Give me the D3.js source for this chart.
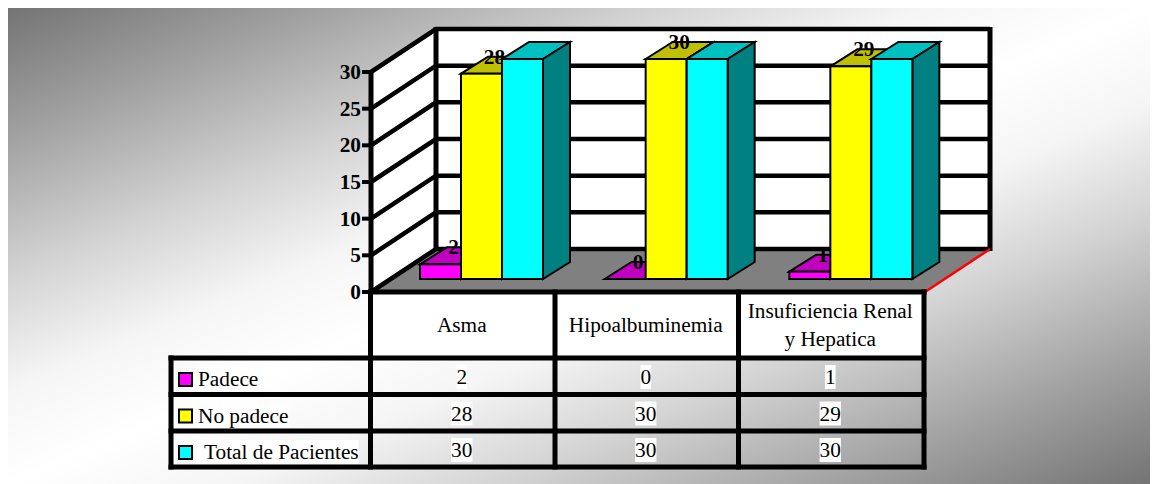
<!DOCTYPE html>
<html>
<head>
<meta charset="utf-8">
<script src="https://cdn.jsdelivr.net/npm/d3@7"></script>
<style>
  html, body { margin: 0; background: #fff; }
  svg { display: block; }
  text { font-family: "Liberation Serif", serif; fill: #000; }
</style>
</head>
<body>
<svg width="1154" height="484"></svg>
<script>
const width = 1154;
const height = 484;

const categories = ["Asma", "Hipoalbuminemia", "Insuficiencia Renal|y Hepatica"];
const seriesNames = ["Padece", "No padece", "Total de Pacientes"];
const padece = [2, 0, 1];
const noPadece = [28, 30, 29];
const total = [30, 30, 30];
const seriesValues = [padece, noPadece, total];
const yTicks = [0, 5, 10, 15, 20, 25, 30];

const frontColors = ["#ff00ff", "#ffff00", "#00ffff"];
const topColors = ["#c000c0", "#c0c000", "#00c0c0"];
const sideColors = ["#800080", "#808000", "#008080"];

// plot box: front plane plus the shift to the back wall
const x0 = 371;
const x1 = 925;
const y0 = 292;
const y30 = 72;
const depth = { x: 65, y: -43 };
const barShift = { x: 0, y: -13 };
const barDepth = { x: 27, y: -17 };
const fontSize = 21.3;

const svg = d3.select("svg");

const bgStops = [
  [0, "#747474"], [0.14, "#a2a2a2"], [0.28, "#d2d2d2"], [0.4, "#f5f5f5"], [0.5, "#ffffff"],
  [0.6, "#f5f5f5"], [0.72, "#d2d2d2"], [0.86, "#a2a2a2"], [1, "#747474"],
];
const bg = svg.append("defs").append("linearGradient")
  .attr("id", "bg").attr("x1", 0).attr("y1", 0).attr("x2", 1).attr("y2", 1);
bgStops.forEach(([o, c]) => bg.append("stop").attr("offset", o).attr("stop-color", c));

svg.append("rect").attr("x", 8).attr("y", 8).attr("width", 1142).attr("height", 476)
  .attr("fill", "url(#bg)");

const xBand = d3.scaleBand().domain(d3.range(categories.length)).range([x0, x1]);
const yScale = d3.scaleLinear().domain([0, 30]).range([y0, y30]);
const barX = d3.scaleBand().domain(d3.range(seriesNames.length)).range([49, 172]);

const pts = (arr) => arr.map((p) => p.join(",")).join(" ");

// walls and floor
const wall = svg.append("g").attr("class", "walls");
wall.append("polygon")
  .attr("points", pts([[x0, y0], [x0 + depth.x, y0 + depth.y], [x0 + depth.x, y30 + depth.y], [x0, y30]]))
  .attr("fill", "#fff");
wall.append("rect")
  .attr("x", x0 + depth.x).attr("y", y30 + depth.y)
  .attr("width", x1 - x0).attr("height", y0 - y30)
  .attr("fill", "#fff");
wall.append("polygon")
  .attr("points", pts([[x0, y0], [x1, y0], [x1 + depth.x, y0 + depth.y], [x0 + depth.x, y0 + depth.y]]))
  .attr("fill", "#808080");

// gridlines run along the side wall and the back wall
yTicks.forEach((t) => {
  const y = yScale(t);
  wall.append("polyline")
    .attr("points", pts([[x0, y], [x0 + depth.x, y + depth.y], [x1 + depth.x, y + depth.y]]))
    .attr("fill", "none").attr("stroke", "#000").attr("stroke-width", 4.5);
  wall.append("line")
    .attr("x1", x0 - 9).attr("x2", x0).attr("y1", y).attr("y2", y)
    .attr("stroke", "#000").attr("stroke-width", 4);
});
[[x0, y0, y30], [x0 + depth.x, y0 + depth.y, y30 + depth.y], [x1 + depth.x, y0 + depth.y, y30 + depth.y]]
  .forEach(([x, a, b]) => {
    wall.append("line")
      .attr("x1", x).attr("y1", a + 2).attr("x2", x).attr("y2", b - 2)
      .attr("stroke", "#000").attr("stroke-width", 5);
  });
wall.append("line")
  .attr("x1", x1).attr("y1", y0).attr("x2", x1 + depth.x).attr("y2", y0 + depth.y)
  .attr("stroke", "#ff0000").attr("stroke-width", 2.5);

// y tick labels
svg.append("g").selectAll("text").data(yTicks).join("text")
  .attr("x", x0 - 10).attr("y", (d) => yScale(d) + 7)
  .attr("text-anchor", "end")
  .attr("font-size", fontSize).attr("font-weight", "bold")
  .text((d) => d);

// bars, left to right so each one covers the label of the bar before it
const bars = svg.append("g").attr("class", "bars");
categories.forEach((c, ci) => {
  seriesValues.forEach((vals, si) => {
    const v = vals[ci];
    const l = xBand(ci) + barX(si);
    const r = l + barX.bandwidth();
    const b = y0 + barShift.y;
    const t = yScale(v) + barShift.y;
    const g = bars.append("g").attr("stroke", "#000").attr("stroke-width", 2).attr("stroke-linejoin", "miter");
    g.append("polygon")
      .attr("points", pts([[l, t], [l + barDepth.x, t + barDepth.y], [r + barDepth.x, t + barDepth.y], [r, t]]))
      .attr("fill", topColors[si]);
    g.append("polygon")
      .attr("points", pts([[r, t], [r + barDepth.x, t + barDepth.y], [r + barDepth.x, b + barDepth.y], [r, b]]))
      .attr("fill", sideColors[si]);
    g.append("rect")
      .attr("x", l).attr("y", t).attr("width", r - l).attr("height", b - t)
      .attr("fill", frontColors[si]);
    if (si < 2) {
      bars.append("text")
        .attr("x", (l + r) / 2 + 13)
        .attr("y", t - 10)
        .attr("text-anchor", "middle")
        .attr("font-size", fontSize).attr("font-weight", "bold")
        .text(v);
    }
  });
});

// data table
const rowY = [292, 358, 394.5, 431, 467];
const colX = [171, 370.5, 555, 738.5, 924];
const table = svg.append("g");

table.selectAll("rect.head").data(categories).join("rect")
  .attr("class", "head")
  .attr("x", (d, i) => colX[i + 1]).attr("y", rowY[0])
  .attr("width", (d, i) => colX[i + 2] - colX[i + 1]).attr("height", rowY[1] - rowY[0])
  .attr("fill", "#fff");

const cellText = (x, y, str, anchor) => table.append("text")
  .attr("x", x).attr("y", y).attr("text-anchor", anchor)
  .attr("font-size", fontSize).text(str);
const whiteBehind = (t) => {
  const b = t.node().getBBox();
  table.insert("rect", () => t.node())
    .attr("x", b.x).attr("y", b.y)
    .attr("width", b.width).attr("height", b.height)
    .attr("fill", "#fff");
};

categories.forEach((c, i) => {
  const cx = (colX[i + 1] + colX[i + 2]) / 2 - 1;
  const parts = c.split("|");
  parts.forEach((p, j) => {
    const y = parts.length === 1 ? 332 : 318 + j * 28;
    cellText(cx, y, p, "middle");
  });
});

seriesNames.forEach((name, si) => {
  const top = rowY[si + 1];
  const label = cellText(si === 2 ? 204 : 198, top + 28, name, "start");
  if (si === 2) {
    const b = label.node().getBBox();
    table.insert("rect", () => label.node())
      .attr("x", 197).attr("y", b.y)
      .attr("width", b.x + b.width - 197).attr("height", b.height)
      .attr("fill", "#fff");
  } else {
    whiteBehind(label);
  }
  table.append("rect")
    .attr("x", 179).attr("y", top + 15).attr("width", 13).attr("height", 13)
    .attr("fill", frontColors[si]).attr("stroke", "#000").attr("stroke-width", 2);
  seriesValues[si].forEach((v, ci) => {
    const cx = (colX[ci + 1] + colX[ci + 2]) / 2 - 1;
    whiteBehind(cellText(cx, top + 26, v, "middle"));
  });
});

const tableLine = (xa, ya, xb, yb) => table.append("line")
  .attr("x1", xa).attr("y1", ya).attr("x2", xb).attr("y2", yb)
  .attr("stroke", "#000").attr("stroke-width", 5).attr("stroke-linecap", "square");
tableLine(colX[1], rowY[0], colX[4], rowY[0]);
rowY.slice(1).forEach((y) => tableLine(colX[0], y, colX[4], y));
colX.forEach((x, i) => tableLine(x, i === 0 ? rowY[1] : rowY[0], x, rowY[4]));
</script>
</body>
</html>
